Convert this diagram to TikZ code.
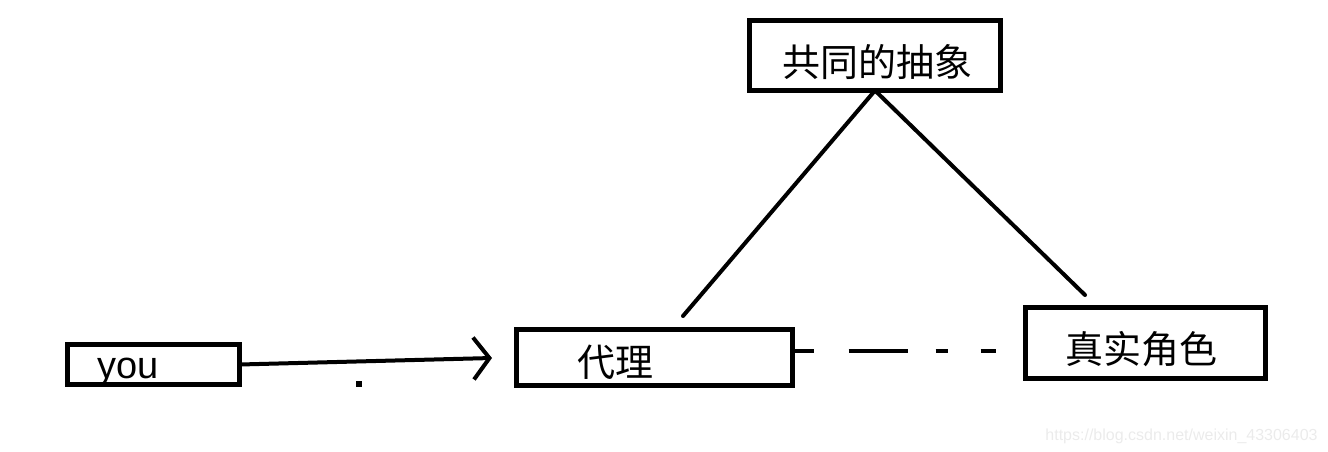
\documentclass[tikz,border=0pt]{standalone}
\usepackage{fontspec}
\setmainfont{Liberation Sans}
\newfontfamily\cjk{Noto Sans CJK SC}
\usetikzlibrary{arrows.meta}
\tikzset{
  box/.style={draw, line width=2.5pt, inner sep=0pt, outer sep=0pt},
  conn/.style={line width=2pt, line cap=round},
  cjktext/.style={inner sep=0pt, font=\cjk\fontsize{19}{19}\selectfont},
}
\begin{document}
\begin{tikzpicture}[x=0.5pt,y=-0.5pt]
\useasboundingbox (0,0) rectangle (1328,451);
% boxes
\node[box, minimum width=86pt, minimum height=20pt] (you) at (153.5,364.5) {};
\node[box, minimum width=138pt, minimum height=28pt] (proxy) at (654.5,357.5) {};
\node[box, minimum width=125.5pt, minimum height=35pt] (abs) at (875,55.5) {};
\node[box, minimum width=120pt, minimum height=35.5pt] (real) at (1145.5,343) {};
% texts
\node[inner sep=0pt, anchor=base west, font=\fontsize{19}{19}\selectfont] (youtxt) at (97,378) {you};
\node[cjktext] (proxytxt) at (615,362) {代理};
\node[cjktext] (abstxt) at (877,62) {共同的抽象};
\node[cjktext] (realtxt) at (1141,349) {真实角色};
% free ends
\coordinate (l1) at (683,316);
\coordinate (l2) at (1085,295);
\coordinate (tip) at (492,358);
\coordinate (dashend) at (1000,351);
% connectors
\draw[conn] (abs.south) -- (l1);
\draw[conn] (abs.south) -- (l2);
\draw[conn, -{Straight Barb[length=8pt,width=21pt,line width=2pt]}] (you.east) -- (tip);
\draw[conn, line cap=butt, dash pattern=on 10.5pt off 17.5pt on 29.5pt off 14pt on 6pt off 16.5pt on 7.5pt off 20pt] (proxy.east |- dashend) -- (dashend);
% dot
\node[fill=black, minimum size=3pt, inner sep=0pt] (dot) at (359,384) {};
% watermark
\node[inner sep=0pt, anchor=base east, text=black!8, font=\fontsize{8}{8}\selectfont] (wm) at (1318,440) {https://blog.csdn.net/weixin\_43306403};
\end{tikzpicture}
\end{document}
